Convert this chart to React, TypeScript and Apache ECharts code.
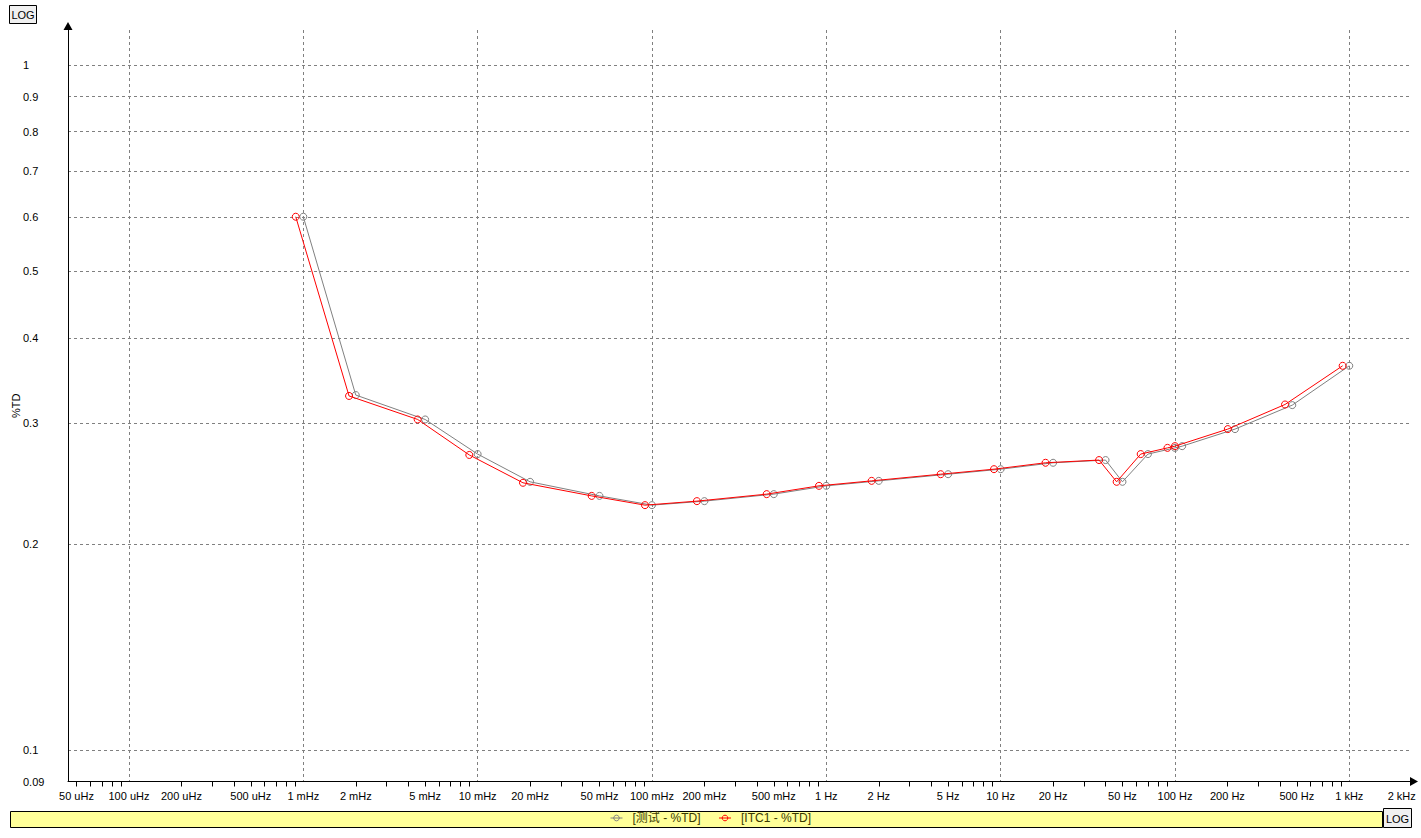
import { useEffect, useRef } from "react";
import * as echarts from "echarts";

// ---- data ----
const seriesNames = ["测试 - %TD", "ITC1 - %TD"];
const seriesColors = ["#808080", "#ff0000"];

// 测试 (gray) series: frequency in Hz and %TD
const grayFreqHz = [
  0.001, 0.002, 0.005, 0.01, 0.02, 0.05, 0.1, 0.2, 0.5, 1, 2, 5, 10, 20, 40, 50, 70, 100, 110, 221, 471, 1000,
];
const grayTD = [
  0.601, 0.33, 0.304, 0.2706, 0.2465, 0.2351, 0.2279, 0.231, 0.2365, 0.2432, 0.2473, 0.2529, 0.2572, 0.2628,
  0.2652, 0.2465, 0.2706, 0.2763, 0.2779, 0.2943, 0.319, 0.3641,
];

// ITC1 (red) series
const redFreqHz = [
  0.000905, 0.00183, 0.00453, 0.00896, 0.0182, 0.0451, 0.0912, 0.181, 0.455, 0.908, 1.82, 4.53, 9.16, 18.1, 36.7,
  46.3, 63.6, 90.6, 100, 201, 428, 916,
];
const redTD = [
  0.601, 0.329, 0.304, 0.2698, 0.2457, 0.2351, 0.2279, 0.231, 0.2365, 0.2432, 0.2473, 0.2529, 0.2572, 0.2628,
  0.2652, 0.2465, 0.2706, 0.2763, 0.2779, 0.2943, 0.3197, 0.3641,
];

// ---- axis ticks / labels ----
const xLabelValues = [
  5e-5, 1e-4, 2e-4, 5e-4, 1e-3, 2e-3, 5e-3, 1e-2, 2e-2, 5e-2, 0.1, 0.2, 0.5, 1, 2, 5, 10, 20, 50, 100, 200, 500, 1000,
  2000,
];
const xLabelTexts = [
  "50 uHz", "100 uHz", "200 uHz", "500 uHz", "1 mHz", "2 mHz", "5 mHz", "10 mHz", "20 mHz", "50 mHz", "100 mHz",
  "200 mHz", "500 mHz", "1 Hz", "2 Hz", "5 Hz", "10 Hz", "20 Hz", "50 Hz", "100 Hz", "200 Hz", "500 Hz", "1 kHz",
  "2 kHz",
];
const xGridDecades = [1e-4, 1e-3, 1e-2, 0.1, 1, 10, 100, 1000];
const xTickMultipliers = [2, 3, 4, 5, 6, 7, 8, 9];
const xFirstDecadeTicks = [5e-5, 6e-5, 7e-5, 8e-5, 9e-5];

const yLabelValues = [0.09, 0.1, 0.2, 0.3, 0.4, 0.5, 0.6, 0.7, 0.8, 0.9, 1];
const yLabelTexts = ["0.09", "0.1", "0.2", "0.3", "0.4", "0.5", "0.6", "0.7", "0.8", "0.9", "1"];

const X_MIN = 4.47e-5;
const X_MAX = 2230;
const Y_MIN = 0.09;
const Y_MAX = 1.126;

const FONT = "'Liberation Sans', 'Noto Sans CJK SC', sans-serif";

function nearestLabel(v: number, values: number[], texts: string[]) {
  let best = 0;
  let bestD = Infinity;
  const lv = Math.log10(v);
  for (let i = 0; i < values.length; i++) {
    const d = Math.abs(Math.log10(values[i]) - lv);
    if (d < bestD) {
      bestD = d;
      best = i;
    }
  }
  return texts[best];
}

export default function App() {
  const ref = useRef<HTMLDivElement>(null);

  useEffect(() => {
    if (!ref.current) return;
    const chart = echarts.init(ref.current, undefined, { renderer: "svg" });

    const xTickValues: number[] = [...xFirstDecadeTicks];
    for (const d of xGridDecades.slice(0, 7)) {
      for (const m of xTickMultipliers) xTickValues.push(d * m);
    }

    const gridLine = { show: true, lineStyle: { color: "#808080", width: 1, type: [3, 3] } };

    const option: any = {
      animation: false,
      backgroundColor: "#ffffff",
      textStyle: { fontFamily: FONT },
      grid: { left: 68, top: 30, right: 11, bottom: 56.5, containLabel: false, outerBoundsMode: "none" },
      legend: {
        data: seriesNames.map((n, i) => ({
          name: n,
          itemStyle: { color: "rgba(0,0,0,0)", borderColor: seriesColors[i], borderWidth: 1 },
          lineStyle: { color: seriesColors[i], width: 1 },
        })),
        left: "center",
        top: 812,
        padding: 0,
        itemWidth: 12,
        itemHeight: 7,
        itemGap: 18,
        formatter: "[{name}]",
        textStyle: { fontSize: 12, color: "#3a3a00", fontFamily: FONT, padding: [0, 0, 0, 5] },
        z: 10,
      },
      graphic: [
        {
          type: "rect",
          z: 1,
          shape: { x: 10.5, y: 811.5, width: 1372, height: 16 },
          style: { fill: "#ffff99", stroke: "#000000", lineWidth: 1 },
        },
        {
          type: "rect",
          z: 1,
          shape: { x: 9.5, y: 5.5, width: 27, height: 18 },
          style: { fill: "#f0f0f0", stroke: "#000000", lineWidth: 1 },
        },
        {
          type: "text",
          z: 2,
          x: 23,
          y: 15,
          style: { text: "LOG", fill: "#000000", fontSize: 11, fontFamily: FONT, align: "center", verticalAlign: "middle" },
        },
        {
          type: "rect",
          z: 1,
          shape: { x: 1383.5, y: 808.5, width: 28, height: 19 },
          style: { fill: "#f0f0f0", stroke: "#000000", lineWidth: 1 },
        },
        {
          type: "text",
          z: 2,
          x: 1397.5,
          y: 818.5,
          style: { text: "LOG", fill: "#000000", fontSize: 11, fontFamily: FONT, align: "center", verticalAlign: "middle" },
        },
      ],
      xAxis: [
        {
          type: "log",
          logBase: 10,
          min: X_MIN,
          max: X_MAX,
          axisLine: {
            show: true,
            onZero: false,
            lineStyle: { color: "#000000", width: 1 },
            symbol: ["none", "triangle"],
            symbolSize: [9, 8],
            symbolOffset: [0, 4],
          },
          axisTick: { show: true, inside: false, length: 5, customValues: xTickValues, lineStyle: { color: "#000000" } },
          minorTick: { show: false },
          axisLabel: {
            customValues: xLabelValues,
            formatter: (v: number) => nearestLabel(v, xLabelValues, xLabelTexts),
            margin: 9,
            fontSize: 11,
            color: "#000000",
            fontFamily: FONT,
          },
          splitLine: { show: false },
        },
        {
          type: "log",
          logBase: 10,
          min: X_MIN,
          max: X_MAX,
          position: "bottom",
          axisLine: { show: false },
          axisTick: { show: false, customValues: xGridDecades },
          axisLabel: { show: false },
          minorTick: { show: false },
          splitLine: gridLine,
        },
      ],
      yAxis: {
        type: "log",
        logBase: 10,
        min: Y_MIN,
        max: Y_MAX,
        name: "%TD",
        nameLocation: "middle",
        nameGap: 47,
        nameRotate: 90,
        nameMoveOverlap: false,
        nameTextStyle: { fontSize: 11, color: "#000000", fontFamily: FONT },
        axisLine: {
          show: true,
          onZero: false,
          lineStyle: { color: "#000000", width: 1 },
          symbol: ["none", "triangle"],
          symbolSize: [9, 8],
          symbolOffset: [0, 4],
        },
        axisTick: { show: false, customValues: yLabelValues },
        minorTick: { show: false },
        axisLabel: {
          customValues: yLabelValues,
          formatter: (v: number) => nearestLabel(v, yLabelValues, yLabelTexts),
          align: "left",
          margin: 45,
          fontSize: 11,
          color: "#000000",
          fontFamily: FONT,
        },
        splitLine: gridLine,
      },
      series: [
        {
          name: seriesNames[0],
          type: "line",
          xAxisIndex: 0,
          yAxisIndex: 0,
          data: grayFreqHz.map((f, i) => [f, grayTD[i]]),
          symbol: "circle",
          symbolSize: 7,
          showAllSymbol: true,
          lineStyle: { color: seriesColors[0], width: 1 },
          itemStyle: { color: "rgba(0,0,0,0)", borderColor: seriesColors[0], borderWidth: 1 },
          emphasis: { disabled: true },
          z: 3,
        },
        {
          name: seriesNames[1],
          type: "line",
          xAxisIndex: 0,
          yAxisIndex: 0,
          data: redFreqHz.map((f, i) => [f, redTD[i]]),
          symbol: "circle",
          symbolSize: 7,
          showAllSymbol: true,
          lineStyle: { color: seriesColors[1], width: 1 },
          itemStyle: { color: "rgba(0,0,0,0)", borderColor: seriesColors[1], borderWidth: 1 },
          emphasis: { disabled: true },
          z: 4,
        },
      ],
    };

    chart.setOption(option);
    return () => {
      chart.dispose();
    };
  }, []);

  return (
    <div
      ref={ref}
      style={{ position: "fixed", left: 0, top: 0, width: 1421, height: 838, background: "#ffffff" }}
    />
  );
}
